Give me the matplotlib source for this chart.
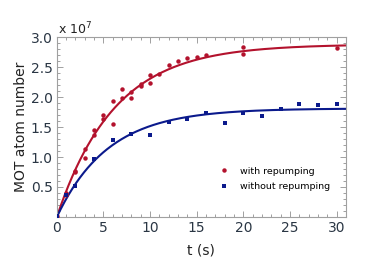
import matplotlib
matplotlib.use("Agg")
import matplotlib.pyplot as plt
from matplotlib.ticker import MultipleLocator
import numpy as np

# measured MOT loading data (atom number in units of 1e7)
t_rep = [0, 1, 1, 2, 2, 3, 3, 4, 4, 5, 5, 6, 6, 7, 7, 8, 8, 9, 9,
         10, 10, 11, 12, 13, 14, 15, 16, 20, 20, 30]
n_rep = [0.02, 0.40, 0.36, 0.77, 0.75, 1.14, 0.98, 1.45, 1.37, 1.70, 1.63,
         1.93, 1.55, 2.13, 1.99, 2.08, 1.99, 2.21, 2.18, 2.37, 2.24, 2.38,
         2.53, 2.60, 2.65, 2.67, 2.70, 2.83, 2.71, 2.81]

t_norep = [0, 1, 2, 4, 6, 8, 10, 12, 14, 16, 18, 20, 22, 24, 26, 28, 30]
n_norep = [0.02, 0.36, 0.51, 0.97, 1.28, 1.38, 1.37, 1.58, 1.64, 1.73,
           1.57, 1.73, 1.69, 1.80, 1.88, 1.86, 1.88]

# exponential loading fits N(t) = A (1 - exp(-t/tau))
fit_rep = (2.88, 6.2)
fit_norep = (1.81, 5.5)

red = "#b3122d"
blue = "#0b1a8c"
frame = "#a0a0a0"
label_col = "#2a3644"

fig = plt.figure(figsize=(3.74, 2.63), dpi=100)
ax = fig.add_axes([0.152, 0.175, 0.773, 0.684])

tt = np.linspace(0, 31, 300)
A, tau = fit_rep
ax.plot(tt, A * (1 - np.exp(-tt / tau)), color=red, lw=1.5, zorder=2)
A, tau = fit_norep
ax.plot(tt, A * (1 - np.exp(-tt / tau)), color=blue, lw=1.5, zorder=2)

ax.plot(t_rep, n_rep, "o", color=red, ms=3.2, mew=0, zorder=3,
        label="with repumping")
ax.plot(t_norep, n_norep, "s", color=blue, ms=3.2, mew=0, zorder=3,
        label="without repumping")

ax.set_xlim(0, 31)
ax.set_ylim(0, 3.0)
ax.xaxis.set_major_locator(MultipleLocator(5))
ax.xaxis.set_minor_locator(MultipleLocator(1))
ax.yaxis.set_major_locator(MultipleLocator(0.5))
ax.yaxis.set_minor_locator(MultipleLocator(0.1))
ax.set_yticks([0.5, 1.0, 1.5, 2.0, 2.5, 3.0])
ax.set_yticklabels(["0.5", "1.0", "1.5", "2.0", "2.5", "3.0"])

for s in ax.spines.values():
    s.set_color(frame)
    s.set_linewidth(0.8)
ax.tick_params(which="both", direction="in", top=True, right=True,
               color=frame, width=0.7, labelsize=10, labelcolor=label_col,
               pad=3)
ax.tick_params(which="major", length=4)
ax.tick_params(which="minor", length=2)

ax.set_xlabel("t (s)", fontsize=10, color="#222222", labelpad=6)
ax.set_ylabel("MOT atom number", fontsize=10, color="#222222", labelpad=2)
ax.text(0.005, 1.0, r"x 10$^{7}$", transform=ax.transAxes, ha="left",
        va="bottom", fontsize=9, color="#222222")

leg = ax.legend(loc="lower right", bbox_to_anchor=(0.975, 0.095), frameon=False,
                fontsize=6.8, handletextpad=1.2, labelspacing=0.7,
                handlelength=1.0, markerscale=1.0)

fig.savefig("out.png", dpi=100)
